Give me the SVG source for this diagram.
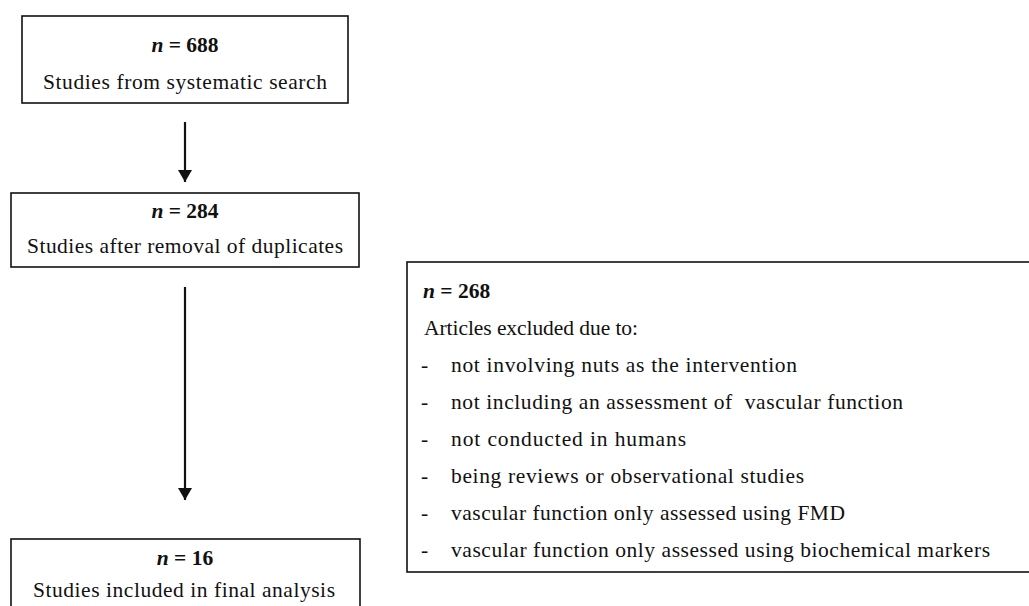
<svg xmlns="http://www.w3.org/2000/svg" width="1029" height="606" viewBox="0 0 1029 606">
<style>
text{font-family:"Liberation Serif","Times New Roman",serif;font-size:21.5px;fill:#111}
.box{fill:#fff;stroke:#111;stroke-width:1.6}
.nb{font-weight:bold}
.it{font-style:italic}
.c{text-anchor:middle}
.conn{stroke:#111;stroke-width:2.2;fill:none}
</style>
<defs>
<marker id="ah" viewBox="0 0 12 14" refX="12" refY="7" markerWidth="12" markerHeight="14" markerUnits="userSpaceOnUse" orient="auto">
<path d="M0,0 L12,7 L0,14 Z" fill="#111"/>
</marker>
</defs>
<rect width="1029" height="606" fill="#fff"/>
<g id="connectors">
<line class="conn" x1="185" y1="122" x2="185" y2="182" marker-end="url(#ah)"/>
<line class="conn" x1="185" y1="287" x2="185" y2="500" marker-end="url(#ah)"/>
</g>
<g id="n1">
<rect class="box" x="22" y="16" width="326" height="87"/>
<text class="c nb" x="185" y="52"><tspan class="it">n</tspan> = 688</text>
<text x="43" y="89" textLength="284">Studies from systematic search</text>
</g>
<g id="n2">
<rect class="box" x="11" y="193" width="348" height="74"/>
<text class="c nb" x="185" y="218"><tspan class="it">n</tspan> = 284</text>
<text x="27" y="253" textLength="316">Studies after removal of duplicates</text>
</g>
<g id="n3">
<rect class="box" x="11" y="539" width="349" height="80"/>
<text class="c nb" x="185" y="565"><tspan class="it">n</tspan> = 16</text>
<text x="33" y="597" textLength="302">Studies included in final analysis</text>
</g>
<g id="n4">
<rect class="box" x="407" y="262" width="630" height="310"/>
<text class="nb" x="423" y="298"><tspan class="it">n</tspan> = 268</text>
<text x="424" y="335" textLength="214">Articles excluded due to:</text>
<text x="421" y="372">-</text><text x="451" y="372" textLength="346">not involving nuts as the intervention</text>
<text x="421" y="409">-</text><text x="451" y="409" textLength="452" xml:space="preserve">not including an assessment of  vascular function</text>
<text x="421" y="446">-</text><text x="451" y="446" textLength="235">not conducted in humans</text>
<text x="421" y="483">-</text><text x="451" y="483" textLength="353">being reviews or observational studies</text>
<text x="421" y="520">-</text><text x="451" y="520" textLength="394">vascular function only assessed using FMD</text>
<text x="421" y="557">-</text><text x="451" y="557" textLength="539">vascular function only assessed using biochemical markers</text>
</g>
</svg>
